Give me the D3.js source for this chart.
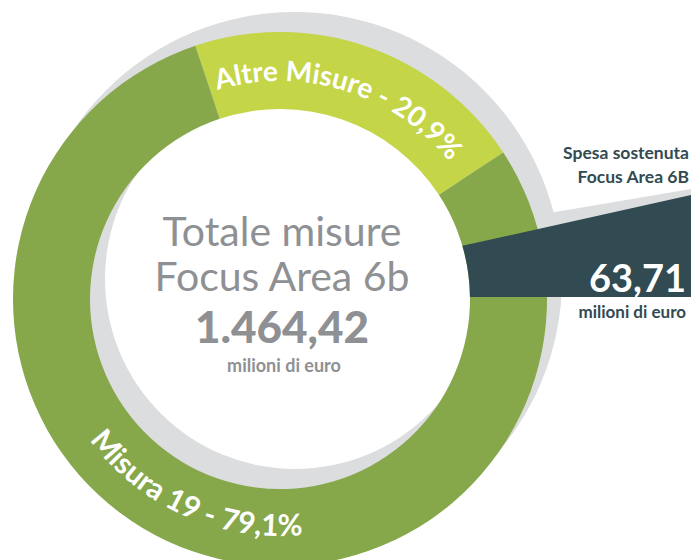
<!DOCTYPE html>
<html><head><meta charset="utf-8">
<script src="https://cdn.jsdelivr.net/npm/d3@7"></script>
<style>
html,body{margin:0;padding:0;background:#fff;}
svg{display:block;font-family:Lato,"Open Sans",sans-serif;}
</style></head>
<body>
<script>
// ---- data ----
const categories = ["Altre Misure", "Misura 19"];
const shares = [20.9, 79.1];
const shareLabels = ["Altre Misure - 20,9%", "Misura 19 - 79,1%"];
const totalValue = 1464.42;
const totalLabel = "1.464,42";
const spentValue = 63.71;
const spentLabel = "63,71";
const centerTitle = ["Totale misure", "Focus Area 6b"];
const spentTitle = ["Spesa sostenuta", "Focus Area 6B"];
const unitLabel = "milioni di euro";

// ---- layout ----
const W = 691, H = 560;
const cx = 280, cy = 299, rOuter = 267, rInner = 190;
const sdx = 15, sdy = -20;
const deg = Math.PI / 180;
const startA = -18.5 * deg;
const colors = {"Altre Misure": "#c4d548", "Misura 19": "#86a84b"};
const grey = "#dcdddf", dark = "#324a51", textGrey = "#8e9093";

const svg = d3.select("body").append("svg").attr("width", W).attr("height", H);

const pie = d3.pie().sort(null).value(d => d.v).startAngle(startA).endAngle(startA + 2 * Math.PI);
const arcs = pie(categories.map((c, i) => ({c, v: shares[i], label: shareLabels[i]})));
const arc = d3.arc().innerRadius(rInner).outerRadius(rOuter);

// shadow ring
svg.append("path")
  .attr("transform", `translate(${cx + sdx},${cy + sdy})`)
  .attr("d", d3.arc().innerRadius(rInner).outerRadius(rOuter)({startAngle: 0, endAngle: 2 * Math.PI}))
  .attr("fill", grey);

// spent wedge geometry (angle from value share)
const angScale = d3.scaleLinear().domain([0, totalValue]).range([0, 2 * Math.PI]);
const wEnd = 89.4 * deg;
const wStart = wEnd - angScale(spentValue);
const pt = (a, r) => [cx + r * Math.sin(a), cy - r * Math.cos(a)];
const pS = pt(wStart, rInner), pE = pt(wEnd, rInner);
const topRightY = 195;

// shadow of wedge
svg.append("path")
  .attr("d", `M520,218L${W},189L${W},${pE[1]}L520,${pE[1]}Z`)
  .attr("fill", grey);

// donut
svg.append("g").attr("transform", `translate(${cx},${cy})`)
  .selectAll("path").data(arcs).join("path")
  .attr("d", arc).attr("fill", d => colors[d.data.c]);

// dark wedge
const wp = d3.path();
wp.moveTo(pS[0], pS[1]);
wp.lineTo(W, topRightY);
wp.lineTo(W, pE[1]);
wp.lineTo(pE[0], pE[1]);
wp.arc(cx, cy, rInner, wEnd - Math.PI / 2, wStart - Math.PI / 2, true);
wp.closePath();
svg.append("path").attr("d", wp.toString()).attr("fill", dark);

// curved labels
const defs = svg.append("defs");
const a0 = arcs[0], a1 = arcs[1];
const midA = (a0.startAngle + a0.endAngle) / 2 - 2 * deg;
const p1 = d3.path();
p1.arc(cx, cy, 218, midA - 60 * deg - Math.PI / 2, midA + 60 * deg - Math.PI / 2, false);
defs.append("path").attr("id", "lab0").attr("d", p1.toString());
const midB = 204 * deg;
const p2 = d3.path();
p2.arc(cx, cy, 237, midB + 60 * deg - Math.PI / 2, midB - 60 * deg - Math.PI / 2, true);
defs.append("path").attr("id", "lab1").attr("d", p2.toString());

svg.append("text").attr("font-size", 28).attr("font-weight", 700).attr("fill", "#fff")
  .append("textPath").attr("href", "#lab0").attr("startOffset", "50%").attr("text-anchor", "middle")
  .text(a0.data.label);
svg.append("text").attr("font-size", 30).attr("font-weight", 700).attr("fill", "#fff")
  .append("textPath").attr("href", "#lab1").attr("startOffset", "50%").attr("text-anchor", "middle")
  .text(a1.data.label);

// center text
const tx = 282;
svg.append("text").attr("x", tx).attr("y", 246).attr("text-anchor", "middle")
  .attr("font-size", 41).attr("font-weight", 400).attr("fill", textGrey).text(centerTitle[0]);
svg.append("text").attr("x", tx).attr("y", 291).attr("text-anchor", "middle")
  .attr("font-size", 41).attr("font-weight", 400).attr("fill", textGrey).text(centerTitle[1]);
svg.append("text").attr("x", tx).attr("y", 343).attr("text-anchor", "middle")
  .attr("font-size", 44).attr("font-weight", 900).attr("fill", textGrey).text(totalLabel);
svg.append("text").attr("x", tx + 2).attr("y", 372).attr("text-anchor", "middle")
  .attr("font-size", 18).attr("font-weight", 700).attr("fill", textGrey).text(unitLabel);

// right text
svg.append("text").attr("x", 689).attr("y", 159).attr("text-anchor", "end")
  .attr("font-size", 17.5).attr("font-weight", 700).attr("fill", dark).text(spentTitle[0]);
svg.append("text").attr("x", 689).attr("y", 183).attr("text-anchor", "end")
  .attr("font-size", 17.5).attr("font-weight", 700).attr("fill", dark).text(spentTitle[1]);
svg.append("text").attr("x", 686).attr("y", 292).attr("text-anchor", "end")
  .attr("font-size", 38).attr("font-weight", 700).attr("fill", "#fff").text(spentLabel);
svg.append("text").attr("x", 686).attr("y", 318).attr("text-anchor", "end")
  .attr("font-size", 17).attr("font-weight", 700).attr("fill", dark).text(unitLabel);
</script>
</body></html>
